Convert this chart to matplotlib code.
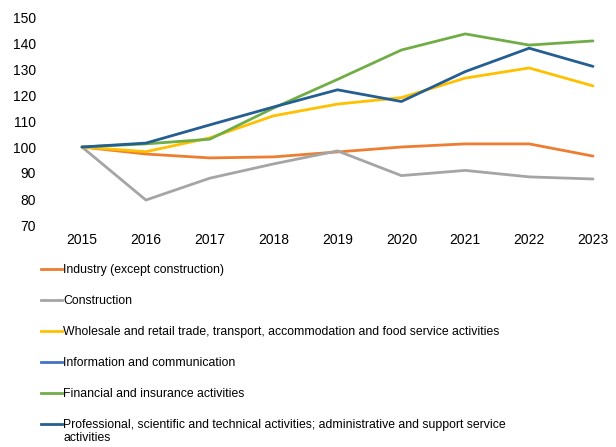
import numpy as np
import matplotlib
matplotlib.use('Agg')
import matplotlib.pyplot as plt
from matplotlib.lines import Line2D

plt.rcParams.update({'font.family': ['Liberation Sans', 'DejaVu Sans'], 'font.size': 9})

years = [2015, 2016, 2017, 2018, 2019, 2020, 2021, 2022, 2023]
industry = [100, 97.3, 95.8, 96.2, 98.1, 100.0, 101.2, 101.2, 96.5]
construction = [100, 79.6, 88.0, 93.5, 98.5, 89.0, 91.0, 88.5, 87.7]
wholesale = [100, 98.2, 103.5, 112.0, 116.5, 119.0, 126.5, 130.4, 123.5]
info = [np.nan] * 9   # hidden under the financial line in the source
financial = [100, 101.2, 103.0, 115.0, 126.0, 137.3, 143.5, 139.2, 140.8]
professional = [100, 101.5, 108.5, 115.4, 122.0, 117.5, 129.0, 138.0, 131.0]

labels = ['Industry (except construction)',
          'Construction',
          'Wholesale and retail trade, transport, accommodation and food service activities',
          'Information and communication',
          'Financial and insurance activities',
          'Professional, scientific and technical activities; administrative and support service\nactivities']
series = [industry, construction, wholesale, info, financial, professional]
colors = ['#ED7D31', '#A5A5A5', '#FFC000', '#4472C4', '#70AD47', '#255E91']

W, H = 616, 447
fig = plt.figure(figsize=(W/100, H/100), dpi=100)
ax = fig.add_axes([50/W, 1-225/H, 566/W, 208/H])
for s, c in zip(series, colors):
    ax.plot(years, s, color=c, lw=2.0, solid_capstyle='round')
step = 511/8
ax.set_xlim(2015-32/step, 2023+23/step)
ax.set_ylim(70, 150)
ax.set_yticks(range(70, 151, 10))
ax.set_xticks(years)
for sp in ax.spines.values(): sp.set_visible(False)
ax.tick_params(length=0, labelsize=10, colors='#000000')
ax.tick_params(axis='x', pad=6)
ax.tick_params(axis='y', pad=10)

# legend below, one entry per row
ys = [269, 300, 331, 362, 393, 424]
for y, lab, c in zip(ys, labels, colors):
    fig.add_artist(Line2D([41/W, 62/W], [1-y/H, 1-y/H], color=c, lw=2, transform=fig.transFigure))
    fig.text(63/W, 1-(y-5)/H, lab, ha='left', va='top', fontsize=8.8, linespacing=1.1)

fig.savefig('out.png', dpi=100)
